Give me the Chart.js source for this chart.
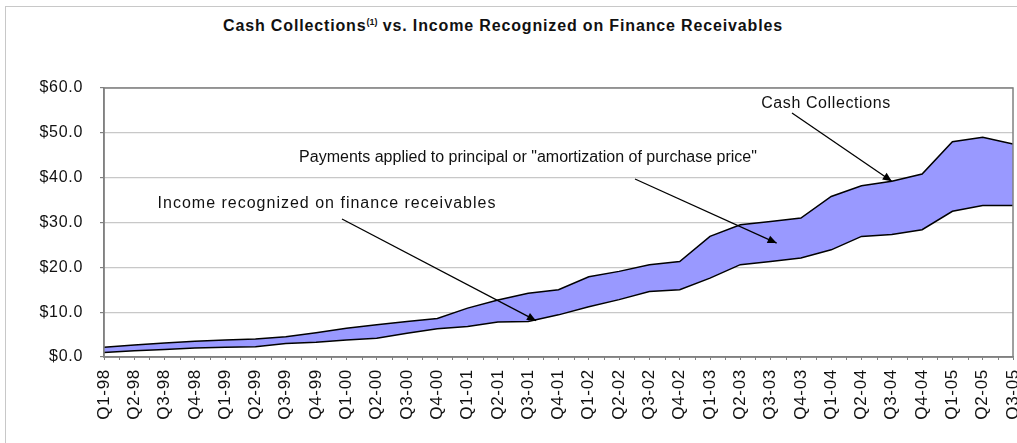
<!DOCTYPE html>
<html>
<head>
<meta charset="utf-8">
<script src="https://cdn.jsdelivr.net/npm/chart.js@4.4.1/dist/chart.umd.min.js"></script>
<style>
  body { margin: 0; background: #fff; font-family: "Liberation Sans", Arial, sans-serif; }
  #wrap { position: relative; width: 1017px; height: 443px; overflow: hidden; }
  #frame { position: absolute; left: 5px; top: 6px; width: 1030px; height: 460px; border: 1px solid #c8c8c8; box-sizing: border-box; }
  #title { position: absolute; top: 17px; left: 0; width: 1006px; text-align: center; font-weight: bold; font-size: 16px; letter-spacing: 0.85px; color: #111; }
  #title sup { font-size: 9px; letter-spacing: 0; }
  canvas { position: absolute; left: 0; top: 0; }
</style>
</head>
<body>
<div id="wrap">
  <div id="frame"></div>
  <div id="title">Cash Collections<sup>(1)</sup> vs. Income Recognized on Finance Receivables</div>
  <canvas id="graph"></canvas>
</div>
<script>
// quarters
const quarters = ["Q1-98","Q2-98","Q3-98","Q4-98","Q1-99","Q2-99","Q3-99","Q4-99",
  "Q1-00","Q2-00","Q3-00","Q4-00","Q1-01","Q2-01","Q3-01","Q4-01",
  "Q1-02","Q2-02","Q3-02","Q4-02","Q1-03","Q2-03","Q3-03","Q4-03",
  "Q1-04","Q2-04","Q3-04","Q4-04","Q1-05","Q2-05","Q3-05"];

// $ millions
const incomeRecognized = [1.0,1.4,1.7,2.0,2.2,2.3,3.0,3.3,3.8,4.2,5.3,6.3,6.8,7.8,7.9,9.4,
  11.2,12.8,14.6,15.0,17.6,20.6,21.3,22.1,23.9,26.9,27.3,28.4,32.5,33.8,33.8];
const cashCollections = [2.2,2.7,3.1,3.5,3.8,4.0,4.5,5.4,6.4,7.2,7.9,8.6,10.9,12.7,14.2,15.0,
  17.9,19.1,20.6,21.3,26.9,29.5,30.2,31.0,35.8,38.2,39.2,40.8,48.0,49.0,47.5];

const yTicks = [0,10,20,30,40,50,60];

// callouts: text centre in px, arrow tail in px, arrow tip as [category index, value]
const notes = [
  {text: "Cash Collections", tx: 826, ty: 104, sp: 0.6, from: [792, 113], tip: [26, 39.2]},
  {text: "Payments applied to principal or \"amortization of purchase price\"", tx: 528, ty: 158, sp: 0, from: [635, 179], tip: [22.2, 25.4]},
  {text: "Income recognized on finance receivables", tx: 327, ty: 204, sp: 1, from: [342, 219], tip: [14.26, 8.1]}
];

const fontFam = "'Liberation Sans', Arial, sans-serif";

const calloutPlugin = {
  id: "callouts",
  beforeDraw(chart) {
    chart.ctx.letterSpacing = "0.7px";
  },
  afterDraw(chart) {
    const ctx = chart.ctx, xs = chart.scales.x, ys = chart.scales.y, ca = chart.chartArea;
    ctx.save();
    // plot frame
    ctx.strokeStyle = "#808080";
    ctx.lineWidth = 1.5;
    ctx.strokeRect(ca.left, ca.top, ca.right - ca.left, ca.bottom - ca.top);
    // minor ticks between categories
    ctx.lineWidth = 1;
    ctx.beginPath();
    for (let i = 0; i < quarters.length - 1; i++) {
      const x = Math.round(xs.getPixelForValue(i + 0.5)) + 0.5;
      ctx.moveTo(x, ca.bottom); ctx.lineTo(x, ca.bottom + 3);
    }
    ctx.stroke();
    ctx.font = "16px " + fontFam;
    ctx.textAlign = "center";
    ctx.textBaseline = "middle";
    notes.forEach(n => {
      ctx.letterSpacing = n.sp + "px";
      ctx.fillStyle = "#111";
      ctx.fillText(n.text, n.tx, n.ty);
      const x2 = xs.getPixelForValue(n.tip[0]), y2 = ys.getPixelForValue(n.tip[1]);
      const x1 = n.from[0], y1 = n.from[1];
      ctx.strokeStyle = "#000";
      ctx.lineWidth = 1.3;
      ctx.beginPath(); ctx.moveTo(x1, y1); ctx.lineTo(x2, y2); ctx.stroke();
      const a = Math.atan2(y2 - y1, x2 - x1), L = 9, W = 4;
      ctx.beginPath();
      ctx.moveTo(x2, y2);
      ctx.lineTo(x2 - L * Math.cos(a) + W * Math.sin(a), y2 - L * Math.sin(a) - W * Math.cos(a));
      ctx.lineTo(x2 - L * Math.cos(a) - W * Math.sin(a), y2 - L * Math.sin(a) + W * Math.cos(a));
      ctx.closePath();
      ctx.fillStyle = "#000";
      ctx.fill();
    });
    ctx.restore();
  }
};

const config = {
  type: "line",
  data: {
    labels: quarters,
    datasets: [
      {label: "Income recognized on finance receivables", data: incomeRecognized,
        borderColor: "#000", borderWidth: 1.5, pointRadius: 0, fill: false, tension: 0},
      {label: "Cash Collections", data: cashCollections,
        borderColor: "#000", borderWidth: 1.5, pointRadius: 0, fill: "-1",
        backgroundColor: "#9999ff", tension: 0}
    ]
  },
  options: {
    responsive: false,
    animation: false,
    layout: {padding: {top: 88, right: 4, left: 0, bottom: 0}},
    plugins: {
      legend: {display: false},
      tooltip: {enabled: false},
      filler: {drawTime: "beforeDatasetsDraw"}
    },
    scales: {
      x: {
        offset: false,
        afterFit(s) { s.height = 86; s.paddingLeft = 0; s.paddingRight = 0; },
        grid: {drawOnChartArea: false, tickLength: 3, color: "#808080"},
        border: {color: "#808080", width: 1.5},
        ticks: {autoSkip: false, maxRotation: 90, minRotation: 90, padding: 9,
          color: "#111", font: {family: fontFam, size: 17}}
      },
      y: {
        min: 0, max: 60,
        afterFit(s) { s.width = 104; s.paddingTop = 0; s.paddingBottom = 0; },
        afterBuildTicks(s) { s.ticks = yTicks.map(v => ({value: v})); },
        grid: {color: "#c8c8c8", lineWidth: 1.2, tickLength: 4, tickColor: "#808080"},
        border: {color: "#808080", width: 1.5},
        ticks: {padding: 17, color: "#111", font: {family: fontFam, size: 16},
          callback: v => "$" + v.toFixed(1)}
      }
    }
  },
  plugins: [calloutPlugin]
};

const canvas = document.getElementById("graph");
canvas.width = 1017;
canvas.height = 443;
new Chart(canvas, config);
</script>
</body>
</html>
